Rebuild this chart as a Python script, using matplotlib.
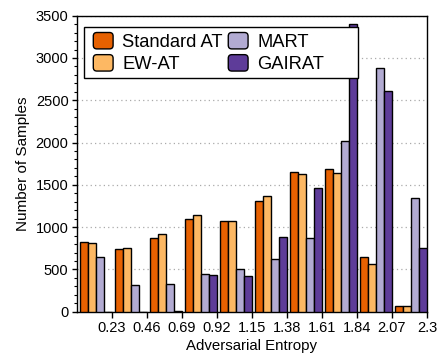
import numpy as np
import matplotlib
matplotlib.use("Agg")
import matplotlib.pyplot as plt
from matplotlib.patches import FancyBboxPatch, Rectangle
from matplotlib.legend_handler import HandlerPatch
from matplotlib.ticker import MultipleLocator

# ---- data ----
bin_edges = [0.0, 0.23, 0.46, 0.69, 0.92, 1.15, 1.38, 1.61, 1.84, 2.07, 2.3]
tick_labels = ["0.23", "0.46", "0.69", "0.92", "1.15", "1.38", "1.61", "1.84", "2.07", "2.3"]
series_names = ["Standard AT", "EW-AT", "MART", "GAIRAT"]
standard_at = [828, 741, 871, 1092, 1072, 1305, 1648, 1687, 643, 71]
ew_at = [816, 757, 922, 1140, 1072, 1368, 1624, 1644, 564, 64]
mart = [650, 312, 324, 449, 501, 619, 868, 2015, 2878, 1341]
gairat = [0, 0, 8, 430, 418, 887, 1463, 3398, 2613, 753]
colors = ["#e66101", "#fdb863", "#b2abd2", "#5e3c99"]

plt.rcParams['font.family'] = ['Liberation Sans', 'DejaVu Sans']

fig = plt.figure(figsize=(4.39, 3.6), dpi=100)
ax = fig.add_axes([77/439, 1-311.7/360, 350/439, 296/360])

edges = np.array(bin_edges)
bw = np.diff(edges)
left = edges[:-1]
bar_w = 0.232 * bw
offset0 = 0.072 * bw

handles = []
for j, (vals, name, c) in enumerate(zip([standard_at, ew_at, mart, gairat], series_names, colors)):
    h = ax.bar(left + offset0 + j * bar_w, vals, width=bar_w, align='edge',
               color=c, edgecolor='black', linewidth=1.0, label=name, zorder=3)
    handles.append(h)

ax.set_xlim(edges[0], edges[-1])
ax.set_ylim(0, 3500)
ax.set_xticks(edges[1:])
ax.set_xticklabels(tick_labels)
ax.yaxis.set_major_locator(MultipleLocator(500))
ax.yaxis.set_minor_locator(MultipleLocator(100))
ax.tick_params(axis='both', which='major', labelsize=10.5, direction='out', width=1.0, colors='black')
ax.tick_params(axis='x', which='major', length=4.3, pad=2.5)
ax.tick_params(axis='y', which='major', length=3.6, pad=2.5)
ax.tick_params(axis='y', which='minor', length=2.4, width=0.8)
for s in ax.spines.values():
    s.set_linewidth(1.0)
    s.set_color('black')

ax.yaxis.grid(True, which='major', linestyle=(0, (1, 2.5)), color='#aaaaaa', linewidth=0.9, zorder=0)
ax.set_axisbelow(True)

ax.set_xlabel("Adversarial Entropy", fontsize=10.8, labelpad=3)
ax.set_ylabel("Number of Samples", fontsize=11, labelpad=4)


class RoundHandler(HandlerPatch):
    def create_artists(self, legend, orig_handle, xdescent, ydescent, width, height, fontsize, trans):
        src = orig_handle.patches[0] if hasattr(orig_handle, 'patches') else orig_handle
        p = FancyBboxPatch((-xdescent, -ydescent), width, height,
                           boxstyle="round,pad=0,rounding_size=%f" % (0.22 * height),
                           facecolor=src.get_facecolor(), edgecolor='black',
                           linewidth=1.0, transform=trans)
        return [p]


leg = ax.legend(handles=handles, labels=series_names, ncol=2, loc='upper left',
                bbox_to_anchor=(16.3/350, (311.7-32.5)/296), fontsize=13.2, frameon=False,
                handlelength=1.08, handleheight=1.0, handletextpad=0.5,
                columnspacing=0.3, labelspacing=0.2, borderpad=0.0, borderaxespad=0.0,
                handler_map={type(handles[0]): RoundHandler()})
leg.set_zorder(6)

frame = Rectangle((7/350, (311.7-78.3)/296), (358.3-84)/350, (78.3-26.7)/296,
                  transform=ax.transAxes, facecolor='white', edgecolor='black',
                  linewidth=1.0, zorder=5)
ax.add_patch(frame)

fig.savefig("out.png", dpi=100)
